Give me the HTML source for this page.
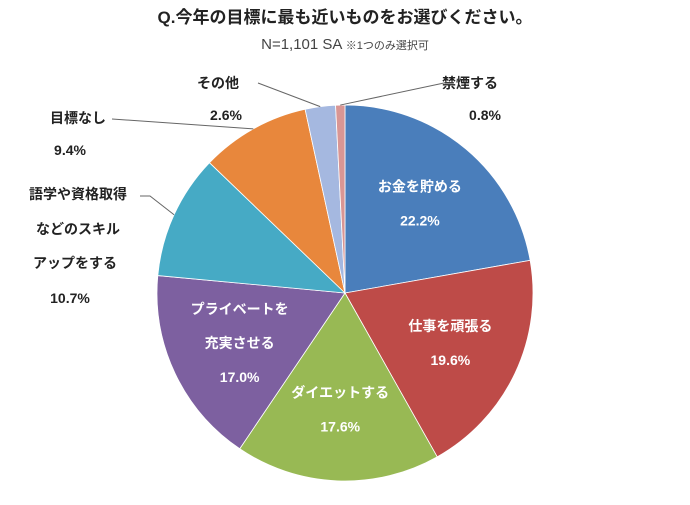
<!DOCTYPE html>
<html><head><meta charset="utf-8"><style>
body{margin:0;background:#fff;width:690px;height:500px;overflow:hidden;font-family:"Liberation Sans","Noto Sans CJK JP",sans-serif}
</style></head><body>
<svg width="690" height="500" style="font-family:'Liberation Sans','Noto Sans CJK JP',sans-serif">
<text x="345" y="23" text-anchor="middle" font-size="17" font-weight="bold" fill="#222">Q.今年の目標に最も近いものをお選びください。</text>
<text x="345" y="49" text-anchor="middle" fill="#444"><tspan font-size="15">N=1,101 SA </tspan><tspan font-size="11">※1つのみ選択可</tspan></text>
<g id="slices"></g>
<g id="labels" font-weight="bold" font-size="14"></g>
</svg>
<script>
const categories=["お金を貯める","仕事を頑張る","ダイエットする","プライベートを充実させる","語学や資格取得などのスキルアップをする","目標なし","その他","禁煙する"];
const values=[22.2,19.6,17.6,17.0,10.7,9.4,2.6,0.8];
const colors=["#4a7ebb","#be4b48","#98b954","#7d60a0","#46aac5","#e8873c","#a5b8e0","#d99694"];
const cx=345,cy=293,r=188;
const total=values.reduce((a,b)=>a+b,0);
const ns="http://www.w3.org/2000/svg";
const g=document.getElementById('slices'),lg=document.getElementById('labels');
function pt(a,rr){return [cx+rr*Math.sin(a),cy-rr*Math.cos(a)];}
let a0=0;const mids=[];
values.forEach((v,i)=>{
 const a1=a0+v/total*2*Math.PI;
 const p0=pt(a0,r),p1=pt(a1,r);
 const p=document.createElementNS(ns,'path');
 p.setAttribute('d',`M${cx},${cy}L${p0[0]},${p0[1]}A${r},${r} 0 ${a1-a0>Math.PI?1:0} 1 ${p1[0]},${p1[1]}Z`);
 p.setAttribute('fill',colors[i]);p.setAttribute('stroke','#fff');p.setAttribute('stroke-width','0.8');
 
 
 g.appendChild(p);
 mids.push((a0+a1)/2);a0=a1;
});
function txt(x,y,s,fill,anchor,name){const t=document.createElementNS(ns,'text');t.setAttribute('x',x);t.setAttribute('y',y);t.setAttribute('fill',fill);t.setAttribute('text-anchor',anchor||'middle');t.textContent=s;


lg.appendChild(t);}
function line(pts,name){const l=document.createElementNS(ns,'polyline');l.setAttribute('points',pts);l.setAttribute('fill','none');l.setAttribute('stroke','#666');l.setAttribute('stroke-width','1');


lg.appendChild(l);}
const pct=v=>v.toFixed(1)+'%';
// inside labels
const inside=[[0,["お金を貯める"],0.62],[1,["仕事を頑張る"],0.62],[2,["ダイエットする"],0.62],[3,["プライベートを","充実させる"],0.62]];
inside.forEach(([i,lines,f])=>{const p=pt(mids[i],r*f);const n=lines.length+1;let y=p[1]-(n-1)*17+5;
 lines.forEach(s=>{txt(p[0],y,s,'#fff','middle','label-'+i);y+=34;});txt(p[0],y,pct(values[i]),'#fff','middle','value-'+i);});
// outside labels
txt(470,88,categories[7],'#222','middle','label-7');txt(485,120,pct(values[7]),'#222','middle','value-7');
line(`444,83 ${pt(mids[7],r)[0]},${pt(mids[7],r)[1]}`,'leader-7');
txt(218,88,categories[6],'#222','middle','label-6');txt(226,120,pct(values[6]),'#222','middle','value-6');
line(`258,83 ${pt(mids[6],r)[0]},${pt(mids[6],r)[1]}`,'leader-6');
txt(78,123,categories[5],'#222','middle','label-5');txt(70,155,pct(values[5]),'#222','middle','value-5');
line(`112,119 ${pt(mids[5],r)[0]},${pt(mids[5],r)[1]}`,'leader-5');
txt(78,199,"語学や資格取得",'#222','middle','label-4');txt(78,234,"などのスキル",'#222','middle','label-4b');txt(75,268,"アップをする",'#222','middle','label-4c');txt(70,303,pct(values[4]),'#222','middle','value-4');
line(`140,196 150,196 ${pt(mids[4],r)[0]},${pt(mids[4],r)[1]}`,'leader-4');
</script>
</body></html>
